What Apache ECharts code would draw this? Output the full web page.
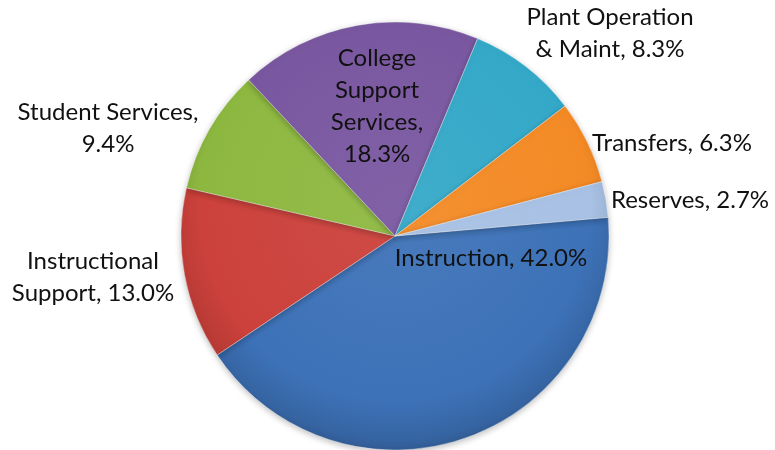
<!DOCTYPE html>
<html>
<head>
<meta charset="utf-8">
<script src="https://cdn.jsdelivr.net/npm/echarts@6/dist/echarts.min.js"></script>
<style>
  html, body { margin: 0; padding: 0; background: #ffffff; }
  #chart { width: 775px; height: 450px; }
</style>
</head>
<body>
<div id="chart"></div>
<script>
// Budget share by function (percent of total)
const categories = [
  'Instruction',
  'Instructional Support',
  'Student Services',
  'College Support Services',
  'Plant Operation & Maint',
  'Transfers',
  'Reserves'
];
const shares = [42.0, 13.0, 9.4, 18.3, 8.3, 6.3, 2.7];

// Slice fill colours, in category order
const sliceColors = ['#3d72b8', '#cc413b', '#8db840', '#7957a0', '#34a8c8', '#f38a25', '#a8c1e4'];

// How each label is broken over lines and where it sits
const labelText = [
  (n, v) => n + ', ' + v + '%',
  (n, v) => 'Instructional\nSupport, ' + v + '%',
  (n, v) => n + ',\n' + v + '%',
  (n, v) => 'College\nSupport\nServices,\n' + v + '%',
  (n, v) => 'Plant Operation\n& Maint, ' + v + '%',
  (n, v) => n + ', ' + v + '%',
  (n, v) => n + ', ' + v + '%'
];
const labelAnchor = [
  [491, 258], [93, 277], [108, 128], [377, 106], [610, 33], [672, 143], [690, 200]
];

const cx = 395, cy = 236, R = 214;

function shade(hex, f) {
  const n = parseInt(hex.slice(1), 16);
  let r = (n >> 16) & 255, g = (n >> 8) & 255, b = n & 255;
  const m = c => Math.max(0, Math.min(255, Math.round(f >= 0 ? c + (255 - c) * f : c * (1 + f))));
  return 'rgb(' + m(r) + ',' + m(g) + ',' + m(b) + ')';
}

const data = categories.map((name, i) => ({
  name: name,
  value: shares[i],
  itemStyle: {
    color: {
      type: 'radial', x: cx, y: cy - 30, r: R + 30, global: true,
      colorStops: [
        { offset: 0, color: shade(sliceColors[i], 0.06) },
        { offset: 0.8, color: sliceColors[i] },
        { offset: 0.96, color: shade(sliceColors[i], -0.12) },
        { offset: 1, color: shade(sliceColors[i], -0.2) }
      ]
    }
  }
}));

const chart = echarts.init(document.getElementById('chart'), null, { renderer: 'canvas' });
chart.setOption({
  animation: false,
  backgroundColor: '#ffffff',
  series: [{
    type: 'pie',
    center: [cx, cy],
    radius: [0, R],
    startAngle: 5,
    clockwise: true,
    data: data,
    itemStyle: {
      borderColor: 'rgba(255,255,255,0.35)',
      borderWidth: 1,
      shadowColor: 'rgba(0,0,0,0.25)',
      shadowBlur: 6,
      shadowOffsetY: 2
    },
    label: {
      show: true,
      position: 'inside',
      color: '#111111',
      fontFamily: 'Lato',
      fontSize: 24,
      lineHeight: 32,
      align: 'center',
      formatter: p => labelText[p.dataIndex](p.name, p.value.toFixed(1))
    },
    labelLine: { show: false },
    labelLayout: p => ({
      x: labelAnchor[p.dataIndex][0],
      y: labelAnchor[p.dataIndex][1],
      align: 'center',
      verticalAlign: 'middle'
    }),
    emphasis: { disabled: true }
  }]
});
</script>
</body>
</html>
